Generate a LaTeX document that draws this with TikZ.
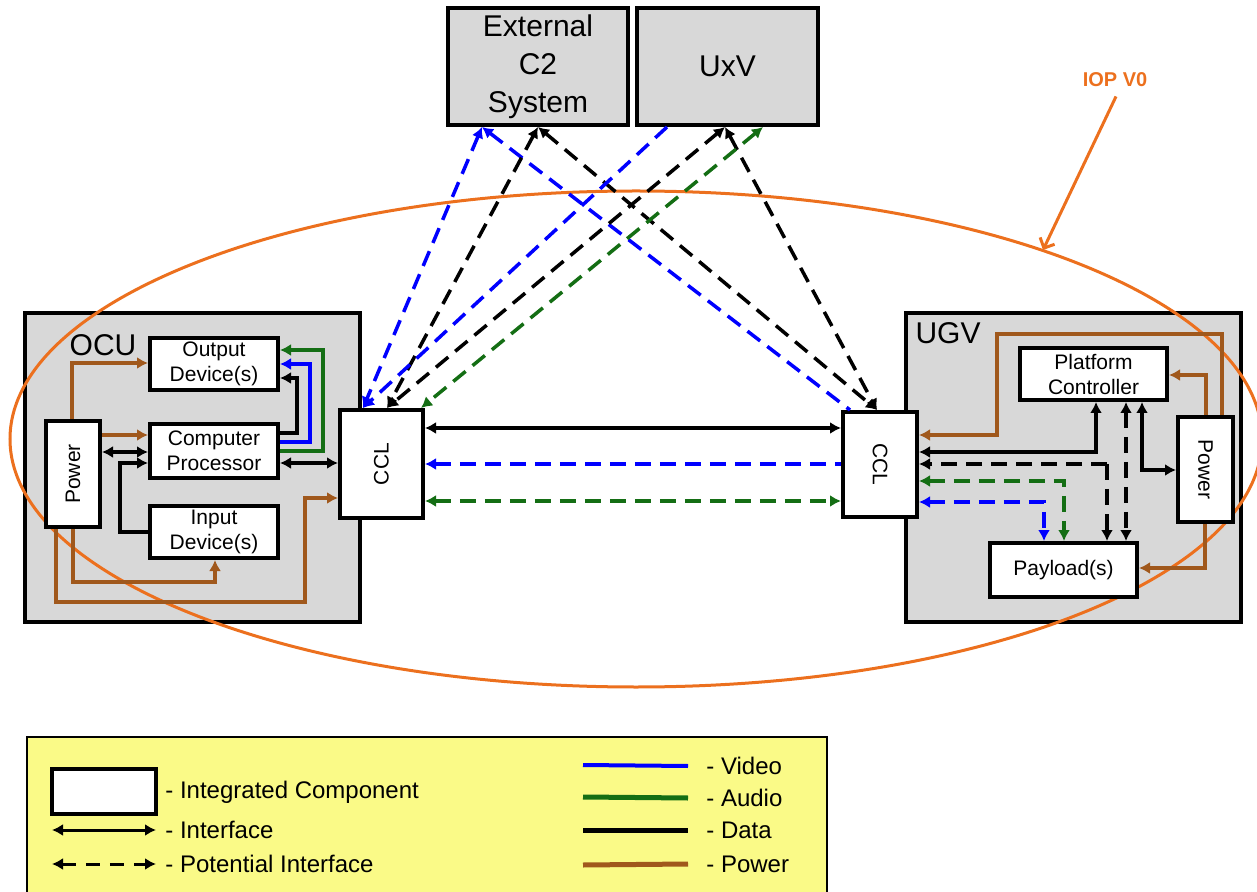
\documentclass[tikz,border=0pt]{standalone}
\usepackage{fontspec}
\usepackage{graphicx}
\setmainfont{Liberation Sans}
\usetikzlibrary{arrows.meta}

\definecolor{panelgray}{RGB}{216,216,216}
\definecolor{vblue}{RGB}{0,0,255}
\definecolor{agreen}{RGB}{20,110,20}
\definecolor{pbrown}{RGB}{160,88,28}
\definecolor{iorange}{RGB}{236,112,30}
\definecolor{legyellow}{RGB}{250,250,135}

\begin{document}
\begin{tikzpicture}[x=0.5pt,y=-0.5pt,
  >={Latex[length=5.5pt,width=6pt]},
  panel/.style={draw, line width=2pt, fill=panelgray, inner sep=0pt},
  comp/.style={draw, line width=2pt, fill=white, align=center, inner sep=0pt,
    font=\fontsize{10.5}{12.5}\selectfont},
  bigtxt/.style={align=center, font=\fontsize{15}{19}\selectfont},
  link/.style={line width=1.75pt},
  lvid/.style={link, draw=vblue},
  laud/.style={link, draw=agreen},
  ldat/.style={link, draw=black},
  lpow/.style={link, draw=pbrown},
  pot/.style={dash pattern=on 8pt off 4.5pt},
  legtxt/.style={anchor=west, inner sep=0pt, font=\fontsize{12}{14}\selectfont}
]
\useasboundingbox (0,0) rectangle (1257,892);

% ---- outer systems and vehicle panels ----
\node[panel, bigtxt, minimum width=90pt, minimum height=58.5pt] (c2) at (538,66.5) {External\\C2\\System};
\node[panel, bigtxt, minimum width=90.5pt, minimum height=58.5pt] (uxv) at (727.5,66.5) {UxV};
\node[panel, minimum width=167.5pt, minimum height=154.5pt] (ocu) at (192.5,467.5) {};
\node[panel, minimum width=167.5pt, minimum height=154.5pt] (ugv) at (1073.5,467.5) {};
\node[font=\fontsize{15}{15}\selectfont, inner sep=0pt] (ocul) at (103,345) {OCU};
\node[font=\fontsize{15}{15}\selectfont, inner sep=0pt] (ugvl) at (948,333) {UGV};

% ---- IOP V0 boundary ----
\draw[iorange, line width=1.5pt] (636,439) ellipse [x radius=313pt, y radius=124pt];
\node[text=iorange, font=\bfseries\fontsize{10}{10}\selectfont, inner sep=0pt] (iop) at (1115,80) {IOP V0};
\coordinate (iopend) at (1043,250);
\draw[iorange, line width=1.5pt, -{Straight Barb[length=4pt,width=8pt]}] (iop.south) ++(1,9) -- (iopend);

% ---- OCU components ----
\node[comp, minimum width=64pt, minimum height=26pt] (out) at (214,364) {Output\\Device(s)};
\node[comp, minimum width=64pt, minimum height=27pt] (cp) at (214,451) {Computer\\Processor};
\node[comp, minimum width=64pt, minimum height=26pt] (inp) at (214,532) {Input\\Device(s)};
\node[comp, minimum width=27pt, minimum height=53pt] (pwrL) at (73,474) {\rotatebox{90}{Power}};
\node[comp, minimum width=41.5pt, minimum height=54pt] (cclL) at (381.5,464) {\rotatebox{90}{CCL}};

% ---- UGV components ----
\node[comp, minimum width=73.5pt, minimum height=26pt] (pc) at (1093.5,374) {Platform\\Controller};
\node[comp, minimum width=73.5pt, minimum height=27pt] (pay) at (1063.5,570) {Payload(s)};
\node[comp, minimum width=27.5pt, minimum height=52.5pt] (pwrR) at (1205.5,469.5) {\rotatebox{-90}{Power}};
\node[comp, minimum width=37pt, minimum height=52.5pt] (cclR) at (880,464.5) {\rotatebox{-90}{CCL}};

% ---- OCU internal links ----
\draw[lpow,->] (pwrL.north -| 72,0) |- (out.west |- 0,363);
\draw[lpow,->] (pwrL.east |- 0,435) -- (cp.west |- 0,435);
\draw[ldat,<->] (pwrL.east |- 0,452) -- (cp.west |- 0,452);
\draw[ldat,->] (inp.west) -| (120,463) -- (cp.west |- 0,463);
\draw[ldat,->] (cp.east |- 0,433) -| (297,378) -- (out.east |- 0,378);
\draw[lvid,->] (cp.east |- 0,442) -| (310,364) -- (out.east |- 0,364);
\draw[laud,->] (cp.east |- 0,451) -| (323,350) -- (out.east |- 0,350);
\draw[ldat,<->] (cp.east |- 0,463) -- (cclL.west |- 0,463);
\draw[lpow,->] (pwrL.south -| 73,0) |- (215,582) -- (inp.south -| 215,0);
\draw[lpow,->] (pwrL.south -| 56,0) |- (305,602) |- (cclL.west |- 0,498);

% ---- UGV internal links ----
\draw[lpow,->] (pwrR.north -| 1222,0) |- (997,334) |- (cclR.east |- 0,435);
\draw[lpow,->] (pwrR.north -| 1206,0) |- (pc.east |- 0,375);
\draw[ldat,<->] (cclR.east |- 0,452) -| (pc.south -| 1096,0);
\coordinate (dj) at (1107,464);
\draw[ldat,pot,->] (dj) -- (cclR.east |- dj);
\draw[ldat,pot,->] (dj) -- (pay.north -| dj);
\draw[ldat,pot,<->] (pc.south -| 1126,0) -- (pay.north -| 1126,0);
\draw[ldat,<->] (pc.south -| 1142,0) |- (pwrR.west |- 0,470);
\draw[laud,pot,<->] (cclR.east |- 0,481) -| (pay.north -| 1064,0);
\draw[lvid,pot,<->] (cclR.east |- 0,502) -| (pay.north -| 1044,0);
\draw[lpow,->] (pwrR.south -| 1205,0) |- (pay.east |- 0,568);

% ---- CCL to CCL ----
\draw[ldat,<->] (cclL.east |- 0,428) -- (cclR.west |- 0,428);
\draw[lvid,pot,<-] (cclL.east |- 0,464) -- (cclR.west |- 0,464);
\draw[laud,pot,<->] (cclL.east |- 0,501) -- (cclR.west |- 0,501);

% ---- external links ----
\draw[lvid,pot,<->] (c2.south -| 482,0) -- (cclL.north -| 363,0);
\draw[lvid,pot,<-] (c2.south -| 482,0) -- (cclR.north -| 850,0);
\draw[ldat,pot,<->] (c2.south -| 538,0) -- (cclL.north -| 387,0);
\draw[ldat,pot,<->] (c2.south -| 538,0) -- (cclR.north -| 877,0);
\draw[lvid,pot,->] (uxv.south -| 667,0) -- (cclL.north -| 363,0);
\draw[ldat,pot,<->] (uxv.south -| 725,0) -- (cclL.north -| 387,0);
\draw[ldat,pot,<->] (uxv.south -| 725,0) -- (cclR.north -| 877,0);
\draw[laud,pot,<->] (uxv.south -| 763,0) -- (cclL.north -| 421,0);

% ---- legend ----
\node[draw, line width=0.6pt, fill=legyellow, minimum width=400pt, minimum height=80pt, inner sep=0pt] (leg) at (427,817) {};
\node[comp, line width=2.25pt, minimum width=52pt, minimum height=22.5pt] (legbox) at (104,791.5) {};
\node[legtxt] (t1) at (165,792) {- Integrated Component};
\node[legtxt] (t2) at (165,830) {- Interface};
\node[legtxt] (t3) at (165,864) {- Potential Interface};
\draw[line width=1.5pt,<->] (52,830) -- (t2.west -| 156,0);
\draw[line width=1.5pt,dash pattern=on 7pt off 5pt,<->] (52,864) -- (t3.west -| 156,0);
\node[legtxt] (t4) at (706,766) {- Video};
\node[legtxt] (t5) at (706,798) {- Audio};
\node[legtxt] (t6) at (706,830) {- Data};
\node[legtxt] (t7) at (706,864) {- Power};
\draw[vblue, line width=2pt] (583,765) -- (t4.west -| 688,0);
\draw[agreen, line width=2.5pt] (583,797) -- (t5.west -| 688,0);
\draw[black, line width=2.5pt] (583,830) -- (t6.west -| 688,0);
\draw[pbrown, line width=2.5pt] (583,865) -- (t7.west -| 688,0);
\end{tikzpicture}
\end{document}
